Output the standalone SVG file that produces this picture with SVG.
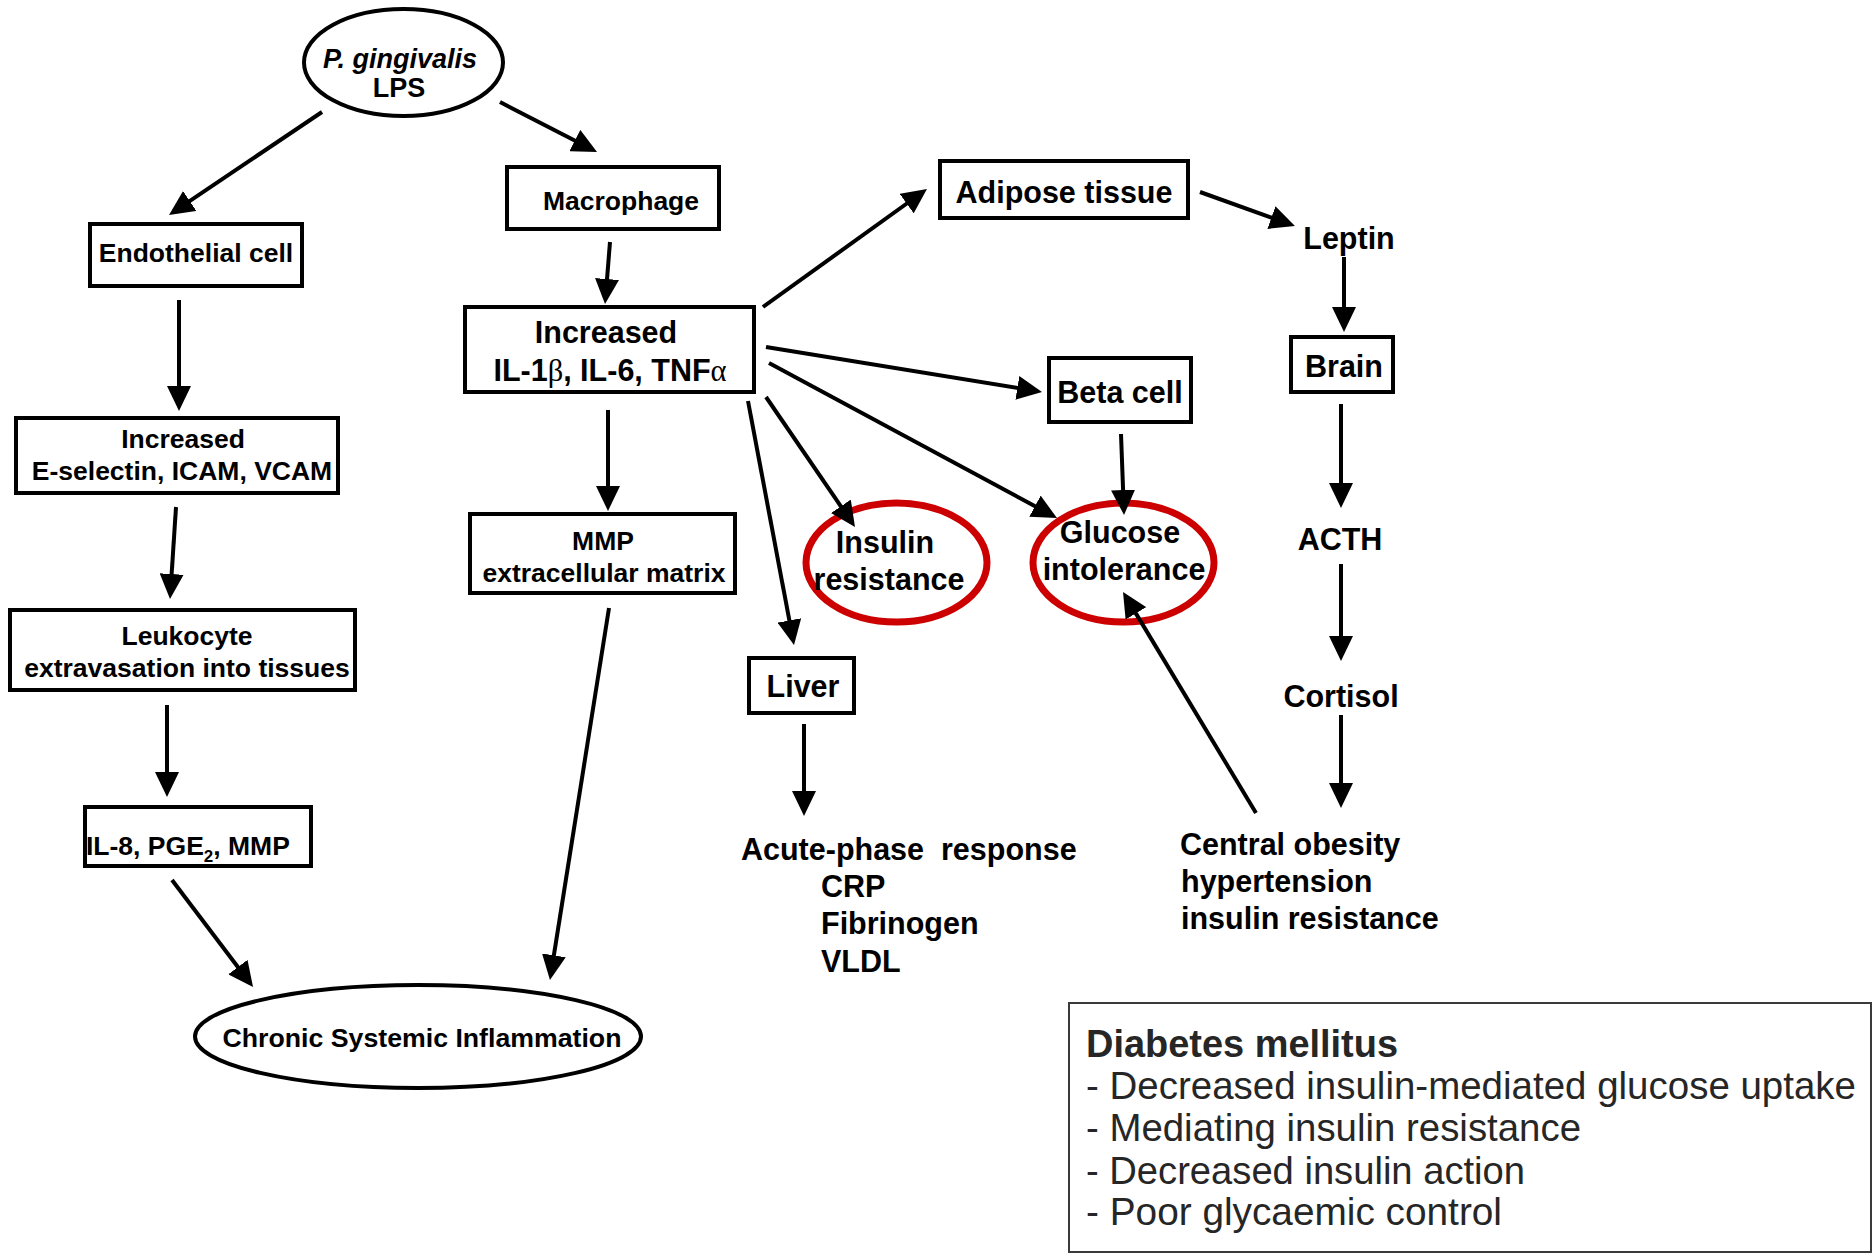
<svg xmlns="http://www.w3.org/2000/svg" width="1874" height="1260" viewBox="0 0 1874 1260">
<style>
.box{fill:#fff;stroke:#000;stroke-width:4}
.ell{fill:#fff;stroke:#000;stroke-width:4}
.red{fill:none;stroke:#cc0000;stroke-width:7}
.t{font-family:"Liberation Sans",Arial,Helvetica,sans-serif;font-weight:bold;fill:#000}
.s26{font-size:26.5px}
.s30{font-size:30.5px}
.c{text-anchor:middle}
.dm{font-family:"Liberation Sans",Arial,Helvetica,sans-serif;font-size:38.5px;fill:#262626}
.conn line{stroke:#000;stroke-width:4;marker-end:url(#ah)}
</style>
<defs>
<marker id="ah" markerUnits="userSpaceOnUse" markerWidth="25" markerHeight="24" refX="19" refY="12" orient="auto" viewBox="0 0 25 24">
<path d="M0,0 L25,12 L0,24 z" fill="#000"/>
</marker>
</defs>
<rect x="0" y="0" width="1874" height="1260" fill="#fff"/>

<g id="n-lps">
<ellipse class="ell" cx="403.5" cy="62.5" rx="99.5" ry="53.5"/>
<text class="t c" x="400" y="68" font-size="27" font-style="italic">P. gingivalis</text>
<text class="t c" x="399" y="97" font-size="27">LPS</text>
</g>
<g id="n-endothelial">
<rect class="box" x="90" y="224" width="212" height="62"/>
<text class="t s26 c" x="196" y="262">Endothelial cell</text>
</g>
<g id="n-eselectin">
<rect class="box" x="16" y="418" width="322" height="75"/>
<text class="t s26 c" x="183" y="448">Increased</text>
<text class="t s26 c" x="182" y="480">E-selectin, ICAM, VCAM</text>
</g>
<g id="n-leukocyte">
<rect class="box" x="10" y="610" width="345" height="80"/>
<text class="t s26 c" x="187" y="645">Leukocyte</text>
<text class="t s26 c" x="187" y="677">extravasation into tissues</text>
</g>
<g id="n-il8">
<rect class="box" x="85" y="807" width="226" height="59"/>
<text class="t s26" x="86" y="855">IL-8, PGE<tspan font-size="17" dy="7">2</tspan><tspan dy="-7">, MMP</tspan></text>
</g>
<g id="n-chronic">
<ellipse class="ell" cx="418" cy="1036.5" rx="223" ry="51.5"/>
<text class="t c" x="422" y="1047" font-size="26.7">Chronic Systemic Inflammation</text>
</g>
<g id="n-macrophage">
<rect class="box" x="507" y="167" width="212" height="62"/>
<text class="t s26 c" x="621" y="210">Macrophage</text>
</g>
<g id="n-cytokines">
<rect class="box" x="465" y="307" width="289" height="85"/>
<text class="t s30 c" x="606" y="343">Increased</text>
<text class="t s30 c" x="610" y="381">IL-1<tspan font-family="'Liberation Serif','DejaVu Serif',serif" font-weight="normal">β</tspan>, IL-6, TNF<tspan font-family="'Liberation Serif','DejaVu Serif',serif" font-weight="normal">α</tspan></text>
</g>
<g id="n-mmp">
<rect class="box" x="470" y="514" width="265" height="79"/>
<text class="t s26 c" x="603" y="550">MMP</text>
<text class="t s26 c" x="604" y="582">extracellular matrix</text>
</g>
<g id="n-adipose">
<rect class="box" x="940" y="161" width="248" height="57"/>
<text class="t s30 c" x="1064" y="203">Adipose tissue</text>
</g>
<g id="n-beta">
<rect class="box" x="1049" y="358" width="142" height="64"/>
<text class="t s30 c" x="1120" y="403">Beta cell</text>
</g>
<g id="n-insulin">
<ellipse class="red" cx="896.5" cy="562.5" rx="90.5" ry="59.5"/>
<text class="t s30 c" x="885" y="553">Insulin</text>
<text class="t s30 c" x="889" y="590">resistance</text>
</g>
<g id="n-glucose">
<ellipse class="red" cx="1123.5" cy="562.5" rx="90.5" ry="59.5"/>
<text class="t s30 c" x="1120" y="543">Glucose</text>
<text class="t s30 c" x="1124" y="580">intolerance</text>
</g>
<g id="n-liver">
<rect class="box" x="749" y="658" width="105" height="55"/>
<text class="t s30 c" x="803" y="697">Liver</text>
</g>
<g id="n-acute">
<text class="t s30" x="741" y="860" xml:space="preserve">Acute-phase  response</text>
<text class="t s30" x="821" y="897">CRP</text>
<text class="t s30" x="821" y="934">Fibrinogen</text>
<text class="t s30" x="821" y="972">VLDL</text>
</g>
<g id="n-leptin">
<text class="t s30 c" x="1349" y="249">Leptin</text>
</g>
<g id="n-brain">
<rect class="box" x="1291" y="337" width="102" height="55"/>
<text class="t s30 c" x="1344" y="377">Brain</text>
</g>
<g id="n-acth">
<text class="t s30 c" x="1340" y="550">ACTH</text>
</g>
<g id="n-cortisol">
<text class="t s30 c" x="1341" y="707">Cortisol</text>
</g>
<g id="n-central">
<text class="t s30" x="1180" y="855">Central obesity</text>
<text class="t s30" x="1181" y="892">hypertension</text>
<text class="t s30" x="1181" y="929">insulin resistance</text>
</g>
<g id="n-diabetes">
<rect x="1069" y="1003" width="802" height="249" fill="#fff" stroke="#3a3a3a" stroke-width="2"/>
<text class="dm" x="1086" y="1057" font-weight="bold" textLength="312" lengthAdjust="spacingAndGlyphs">Diabetes mellitus</text>
<text class="dm" x="1086" y="1099" textLength="770" lengthAdjust="spacingAndGlyphs">- Decreased insulin-mediated glucose uptake</text>
<text class="dm" x="1086" y="1141" textLength="495" lengthAdjust="spacingAndGlyphs">- Mediating insulin resistance</text>
<text class="dm" x="1086" y="1184" textLength="439" lengthAdjust="spacingAndGlyphs">- Decreased insulin action</text>
<text class="dm" x="1086" y="1225" textLength="416" lengthAdjust="spacingAndGlyphs">- Poor glycaemic control</text>
</g>

<g id="connectors" class="conn">
<line x1="322" y1="112" x2="174" y2="211.6"/>
<line x1="500" y1="102" x2="591.7" y2="149.3"/>
<line x1="610" y1="242" x2="605.5" y2="298"/>
<line x1="179" y1="300" x2="179" y2="405"/>
<line x1="176" y1="507" x2="170.4" y2="593"/>
<line x1="167" y1="705" x2="167" y2="791"/>
<line x1="172" y1="880" x2="249.4" y2="982.2"/>
<line x1="608" y1="410" x2="608" y2="505"/>
<line x1="609" y1="608" x2="550.9" y2="974.1"/>
<line x1="763" y1="307" x2="922.1" y2="192.5"/>
<line x1="766" y1="347" x2="1036.1" y2="391"/>
<line x1="769" y1="363" x2="1051.7" y2="515.2"/>
<line x1="766" y1="397" x2="851.6" y2="522"/>
<line x1="748" y1="401" x2="792.9" y2="639.1"/>
<line x1="1121" y1="434" x2="1123.8" y2="509"/>
<line x1="1200" y1="192" x2="1289.3" y2="224"/>
<line x1="1344" y1="257" x2="1344" y2="326"/>
<line x1="1341" y1="404" x2="1341" y2="502"/>
<line x1="1341" y1="564" x2="1341" y2="655"/>
<line x1="1341" y1="715" x2="1341" y2="802"/>
<line x1="804" y1="724" x2="804" y2="810"/>
<line x1="1256" y1="813" x2="1126.1" y2="597.1"/>
</g>
</svg>
